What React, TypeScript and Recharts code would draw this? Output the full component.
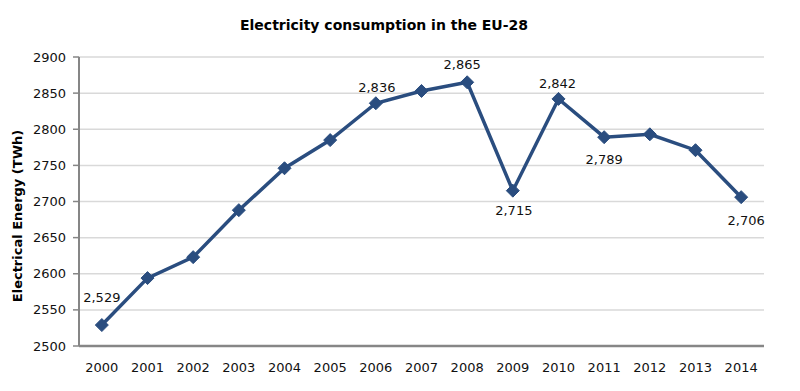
import React from 'react';
import { LineChart, Line, XAxis, YAxis, CartesianGrid, LabelList } from 'recharts';

const years = ['2000', '2001', '2002', '2003', '2004', '2005', '2006', '2007', '2008', '2009', '2010', '2011', '2012', '2013', '2014'];
const consumption = [2529, 2594, 2623, 2688, 2746, 2785, 2836, 2853, 2865, 2715, 2842, 2789, 2793, 2771, 2706];
const yTicks = [2500, 2550, 2600, 2650, 2700, 2750, 2800, 2850, 2900];
const boundaryTicks = [0, 1, 2, 3, 4, 5, 6, 7, 8, 9, 10, 11, 12, 13, 14, 15];

// which points get a value label, and where it sits (dx, dy from the point)
const labelPlace: Record<string, [number, number]> = {
  '2000': [0, -28],
  '2006': [1, -16],
  '2008': [-5, -18],
  '2009': [1, 20],
  '2010': [-1, -15],
  '2011': [0, 22],
  '2014': [5, 23],
};

const data = years.map((y, i) => ({ year: y, value: consumption[i] }));

const FONT = '"DejaVu Sans", Verdana, sans-serif';
const LINE_COLOR = '#2A4D7F';

const Diamond = (props: any) => {
  const { cx, cy } = props;
  if (cx == null || cy == null) return null;
  const r = 6.5;
  return (
    <polygon
      points={`${cx},${cy - r} ${cx + r},${cy} ${cx},${cy + r} ${cx - r},${cy}`}
      fill={LINE_COLOR}
      stroke={LINE_COLOR}
      strokeWidth={1}
    />
  );
};

const ValueLabel = (props: any) => {
  const { x, y, index } = props;
  const place = labelPlace[years[index]];
  if (!place) return null;
  return (
    <text
      x={x + place[0]}
      y={y + place[1]}
      textAnchor="middle"
      dominantBaseline="central"
      fontFamily={FONT}
      fontSize={13}
      fill="#111"
    >
      {consumption[index].toLocaleString('en-US')}
    </text>
  );
};

const App = () => {
  return (
    <div style={{ position: 'absolute', left: 0, top: 0, width: 800, height: 391, background: '#fff' }}>
      <LineChart width={800} height={391} data={data} margin={{ top: 57, right: 36, bottom: 0, left: 0 }}>
        <text x={384} y={25} textAnchor="middle" dominantBaseline="central" fontFamily={FONT} fontWeight="bold" fontSize={14} fill="#000">
          Electricity consumption in the EU-28
        </text>
        <text
          x={17}
          y={216}
          transform="rotate(-90 17 216)"
          textAnchor="middle"
          dominantBaseline="central"
          fontFamily={FONT}
          fontWeight="bold"
          fontSize={13}
          fill="#000"
        >
          Electrical Energy (TWh)
        </text>
        <CartesianGrid xAxisId={1} vertical={false} stroke="#D9D9D9" strokeWidth={1.5} />
        {/* axis 0: axis line with tick marks between the years */}
        <XAxis
          xAxisId={0}
          type="number"
          domain={[0, 15]}
          ticks={boundaryTicks}
          interval={0}
          height={1}
          tick={false}
          tickSize={5}
          axisLine={{ stroke: '#868686', strokeWidth: 2.5 }}
          tickLine={{ stroke: '#868686', strokeWidth: 1.5 }}
        />
        {/* axis 1: year labels under each point */}
        <XAxis
          xAxisId={1}
          dataKey="year"
          scale="band"
          interval={0}
          height={44}
          axisLine={false}
          tickLine={false}
          tickMargin={10}
          tick={{ fontFamily: FONT, fontSize: 13, fill: '#111' }}
        />
        <YAxis
          width={79}
          domain={[2500, 2900]}
          ticks={yTicks}
          interval={0}
          tickSize={6}
          tickMargin={7}
          axisLine={{ stroke: '#868686', strokeWidth: 2 }}
          tickLine={{ stroke: '#868686', strokeWidth: 1.5 }}
          tick={{ fontFamily: FONT, fontSize: 13, fill: '#111' }}
        />
        <Line
          xAxisId={1}
          dataKey="value"
          stroke={LINE_COLOR}
          strokeWidth={3.5}
          dot={<Diamond />}
          activeDot={false}
          isAnimationActive={false}
        >
          <LabelList dataKey="value" content={<ValueLabel />} />
        </Line>
      </LineChart>
    </div>
  );
};

export default App;
